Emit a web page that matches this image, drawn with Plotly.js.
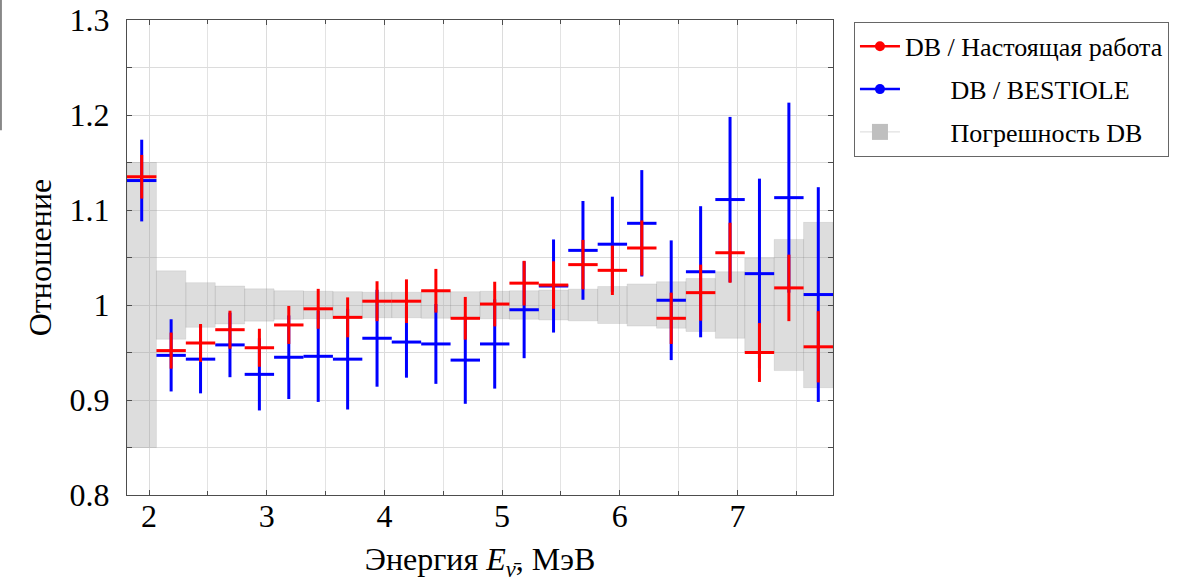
<!DOCTYPE html>
<html>
<head>
<meta charset="utf-8">
<script src="https://cdn.plot.ly/plotly-3.0.1.min.js"></script>
<style>
  html, body { margin: 0; padding: 0; background: #fff; }
  #chart { width: 1181px; height: 582px; }
</style>
</head>
<body>
<div id="chart"></div>
<script>
// Bin centres (MeV), bin width 0.25 MeV
const energy = [1.9375, 2.1875, 2.4375, 2.6875, 2.9375, 3.1875, 3.4375, 3.6875,
                3.9375, 4.1875, 4.4375, 4.6875, 4.9375, 5.1875, 5.4375, 5.6875,
                5.9375, 6.1875, 6.4375, 6.6875, 6.9375, 7.1875, 7.4375, 7.6875];
const binWidth = 0.25;

// DB / Настоящая работа
const ratioThis = [1.135, 0.952, 0.960, 0.974, 0.955, 0.979, 0.996, 0.987,
                   1.004, 1.004, 1.015, 0.986, 1.001, 1.023, 1.021, 1.0425,
                   1.0365, 1.060, 0.986, 1.013, 1.055, 0.950, 1.018, 0.956];
const errThis   = [0.023, 0.019, 0.020, 0.020, 0.020, 0.020, 0.021, 0.021,
                   0.021, 0.023, 0.023, 0.0225, 0.0235, 0.0235, 0.025, 0.026,
                   0.026, 0.029, 0.027, 0.0295, 0.0316, 0.031, 0.035, 0.0375];

// DB / BESTIOLE
const ratioBest = [1.131, 0.947, 0.943, 0.958, 0.927, 0.945, 0.946, 0.943,
                   0.965, 0.961, 0.959, 0.942, 0.959, 0.995, 1.020, 1.0575,
                   1.064, 1.086, 1.005, 1.035, 1.111, 1.033, 1.113, 1.011];
const errBest   = [0.043, 0.038, 0.036, 0.034, 0.038, 0.044, 0.048, 0.053,
                   0.051, 0.0375, 0.042, 0.046, 0.047, 0.051, 0.049, 0.052,
                   0.050, 0.056, 0.063, 0.069, 0.087, 0.100, 0.100, 0.113];

// Погрешность DB (half-width around 1)
const uncDB = [0.150, 0.036, 0.0235, 0.020, 0.017, 0.015, 0.0145, 0.014,
               0.0135, 0.0135, 0.014, 0.014, 0.0145, 0.015, 0.0158, 0.0167,
               0.0195, 0.0222, 0.0245, 0.0278, 0.035, 0.0495, 0.069, 0.087];

const names = ['DB / Настоящая работа', '\u00a0\u00a0\u00a0\u00a0\u00a0\u00a0\u00a0DB / BESTIOLE', '\u00a0\u00a0\u00a0\u00a0\u00a0\u00a0\u00a0Погрешность DB'];

const RED = '#ff0000', BLUE = '#0000ff';

function crossTrace(y, err, color) {
  return {
    type: 'scatter', mode: 'markers', x: energy, y: y,
    marker: { size: 3, color: color },
    error_y: { type: 'data', array: err, symmetric: true, color: color, thickness: 3, width: 0 },
    error_x: { type: 'constant', value: binWidth / 2, color: color, thickness: 3, width: 0 },
    showlegend: false, hoverinfo: 'x+y'
  };
}

const traces = [
  {
    type: 'bar', x: energy, base: uncDB.map(u => 1 - u), y: uncDB.map(u => 2 * u),
    width: binWidth,
    marker: { color: 'rgba(150,150,150,0.32)', line: { color: 'rgba(110,110,110,0.12)', width: 1 } },
    showlegend: false, hoverinfo: 'skip'
  },
  crossTrace(ratioBest, errBest, BLUE),
  crossTrace(ratioThis, errThis, RED),
  { type: 'scatter', mode: 'lines+markers', x: [null], y: [null], name: names[0],
    legendgroup: 'a', legendrank: 1,
    line: { color: RED, width: 2.5 }, marker: { color: RED, size: 10 } },
  { type: 'scatter', mode: 'lines+markers', x: [null], y: [null], name: names[1],
    legendgroup: 'b', legendrank: 2,
    line: { color: BLUE, width: 2.5 }, marker: { color: BLUE, size: 10 } },
  { type: 'scatter', mode: 'lines+markers', x: [null], y: [null], name: names[2],
    legendgroup: 'c', legendrank: 3,
    line: { color: '#d9d9d9', width: 1 }, marker: { color: '#bfbfbf', size: 22, symbol: 'square' } }
];

const FONT = 'Liberation Serif, Times New Roman, serif';
const AXC = '#4d4d4d';

const layout = {
  width: 1181, height: 582,
  margin: { l: 127, r: 348, t: 20, b: 87 },
  paper_bgcolor: '#ffffff', plot_bgcolor: '#ffffff',
  font: { family: FONT, color: '#000', size: 32 },
  showlegend: true,
  xaxis: {
    range: [1.8125, 7.8125], tick0: 0, dtick: 1,
    showgrid: true, gridcolor: '#dcdcdc', gridwidth: 1,
    minor: { dtick: 0.5, showgrid: true, gridcolor: '#e3e3e3', ticks: 'inside', ticklen: 4, tickcolor: AXC },
    ticks: 'inside', ticklen: 5, tickcolor: AXC,
    showline: true, linecolor: AXC, linewidth: 1, mirror: 'ticks',
    zeroline: false,
    tickfont: { family: FONT, size: 32 },
    ticklabelstandoff: -7,
    title: { text: 'Энергия <i>E</i><sub><i>ν̄</i></sub>, МэВ', font: { family: FONT, size: 32 }, standoff: 16 },
    automargin: false
  },
  yaxis: {
    range: [0.8, 1.3], tick0: 0, dtick: 0.1,
    showgrid: true, gridcolor: '#dcdcdc', gridwidth: 1,
    minor: { dtick: 0.05, showgrid: true, gridcolor: '#dcdcdc', ticks: 'inside', ticklen: 5, tickcolor: AXC },
    ticks: 'inside', ticklen: 5, tickcolor: AXC,
    showline: true, linecolor: AXC, linewidth: 1, mirror: 'ticks',
    zeroline: false,
    tickfont: { family: FONT, size: 32 },
    ticklabelstandoff: 10,
    title: { text: 'Отношение', font: { family: FONT, size: 32 }, standoff: 8 },
    automargin: false
  },
  legend: {
    x: 1.0297, y: 0.996, xanchor: 'left', yanchor: 'top',
    bgcolor: '#ffffff', bordercolor: '#666666', borderwidth: 1,
    font: { family: FONT, size: 26, color: '#000' },
    tracegroupgap: 6, itemsizing: 'trace', itemwidth: 40
  },
  shapes: [
    { type: 'line', xref: 'paper', yref: 'paper', x0: -0.1785, x1: -0.1785, y0: 0.768, y1: 1.05,
      line: { color: '#666666', width: 1.5 } }
  ]
};

Plotly.newPlot('chart', traces, layout, { displayModeBar: false, staticPlot: true });
</script>
</body>
</html>
